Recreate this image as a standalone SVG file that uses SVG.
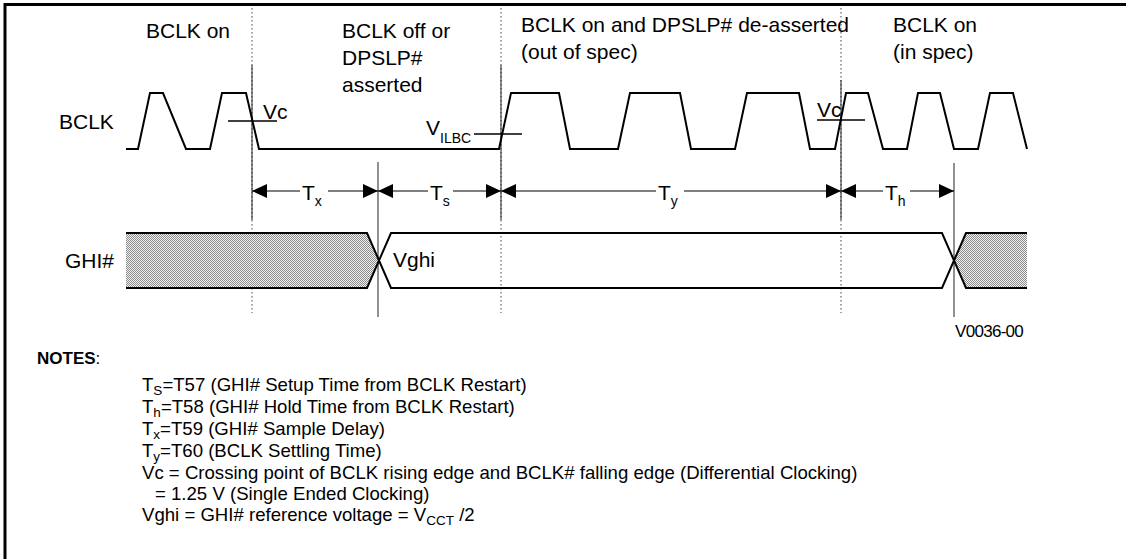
<svg xmlns="http://www.w3.org/2000/svg" width="1126" height="559" viewBox="0 0 1126 559">
<style>
.t{font-family:"Liberation Sans",Arial,sans-serif;fill:#000}
.lab{font-size:21px}
.sub{font-size:14px}
.note{font-size:18.6px}
.nsub{font-size:13.5px}
.wave{fill:none;stroke:#000;stroke-width:2;stroke-linejoin:miter}
.dot{stroke:#444;stroke-width:1;stroke-dasharray:1.5 2.5}
.sol{stroke:#222;stroke-width:1}
.arr{stroke:#000;stroke-width:1.2}
</style>
<defs>
<pattern id="hatch" width="2" height="2" patternUnits="userSpaceOnUse">
<rect width="2" height="2" fill="#f2f2f2"/>
<rect width="1" height="1" fill="#8a8a8a"/>
<rect x="1" y="1" width="1" height="1" fill="#8a8a8a"/>
</pattern>
<marker id="ah" viewBox="0 0 15 14" refX="15" refY="7" markerWidth="15" markerHeight="14" markerUnits="userSpaceOnUse" orient="auto">
<path d="M0,0 L15,7 L0,14 Z" fill="#000"/>
</marker>
</defs>
<rect width="1126" height="559" fill="#fff"/>
<path d="M5,559 V4.5 H1126" fill="none" stroke="#000" stroke-width="3"/>

<g id="region-labels">
<text class="t lab" x="146" y="38">BCLK on</text>
<text class="t lab" x="342" y="38">BCLK off or</text>
<text class="t lab" x="342" y="65">DPSLP#</text>
<text class="t lab" x="342" y="92">asserted</text>
<text class="t lab" x="521" y="32">BCLK on and DPSLP# de-asserted</text>
<text class="t lab" x="521" y="59">(out of spec)</text>
<text class="t lab" x="893" y="32">BCLK on</text>
<text class="t lab" x="893" y="59">(in spec)</text>
</g>

<g id="guides">
<line class="dot" x1="252" y1="8" x2="252" y2="313"/>
<line class="dot" x1="501" y1="8" x2="501" y2="313"/>
<line class="dot" x1="841" y1="8" x2="841" y2="313"/>
<line class="sol" x1="252" y1="65" x2="252" y2="220"/>
<line class="sol" x1="501" y1="65" x2="501" y2="220"/>
<line class="sol" x1="841" y1="80" x2="841" y2="220"/>
<line class="sol" x1="378" y1="162" x2="378" y2="317"/>
<line class="sol" x1="954" y1="163" x2="954" y2="317"/>
</g>

<g id="bclk">
<text class="t lab" x="59" y="129">BCLK</text>
<path class="wave" d="M126,149 H138 L150,93 H163 L186,149 H210 L222,93 H246 L259,149 H499 L511,93 H559 L570,149 H618 L630,93 H680 L691,149 H735 L747,93 H799 L810,149 H835 L846,93 H868 L883,149 H907 L918,93 H940 L954,149 H978 L990,93 H1013 L1027,149"/>
<line x1="228" y1="121" x2="277" y2="121" stroke="#000" stroke-width="1.5"/>
<text class="t lab" x="263" y="119">Vc</text>
<line x1="474" y1="134" x2="522" y2="134" stroke="#000" stroke-width="1.5"/>
<text class="t lab" x="426" y="135">V<tspan class="sub" dy="8">ILBC</tspan></text>
<line x1="817" y1="120" x2="865" y2="120" stroke="#000" stroke-width="1.5"/>
<text class="t lab" x="817" y="117">Vc</text>
</g>

<g id="connectors">
<line class="arr" x1="300" y1="191" x2="252" y2="191" marker-end="url(#ah)"/>
<line class="arr" x1="328" y1="191" x2="378" y2="191" marker-end="url(#ah)"/>
<line class="arr" x1="428" y1="191" x2="378" y2="191" marker-end="url(#ah)"/>
<line class="arr" x1="453" y1="191" x2="501" y2="191" marker-end="url(#ah)"/>
<line class="arr" x1="656" y1="191" x2="501" y2="191" marker-end="url(#ah)"/>
<line class="arr" x1="684" y1="191" x2="841" y2="191" marker-end="url(#ah)"/>
<line class="arr" x1="883" y1="191" x2="841" y2="191" marker-end="url(#ah)"/>
<line class="arr" x1="910" y1="191" x2="954" y2="191" marker-end="url(#ah)"/>
</g>

<g id="timing-labels">
<text class="t lab" x="302" y="200">T<tspan class="sub" dy="6">x</tspan></text>
<text class="t lab" x="430" y="200">T<tspan class="sub" dy="6">s</tspan></text>
<text class="t lab" x="658" y="200">T<tspan class="sub" dy="6">y</tspan></text>
<text class="t lab" x="885" y="200">T<tspan class="sub" dy="6">h</tspan></text>
</g>

<g id="ghi">
<text class="t lab" x="65" y="268">GHI#</text>
<polygon points="126,233 367,233 378.5,260.5 367,288 126,288" fill="url(#hatch)"/>
<polygon points="954,260.5 966,233 1027,233 1027,288 966,288" fill="url(#hatch)"/>
<path class="wave" d="M126,233 H367 L391,288 H942 L966,233 H1027"/>
<path class="wave" d="M126,288 H367 L391,233 H942 L966,288 H1027"/>
<text class="t lab" x="393" y="267">Vghi</text>
</g>

<text class="t" x="955" y="337" style="font-size:17px;letter-spacing:-0.7px">V0036-00</text>

<g id="notes">
<text class="t" x="37" y="364" style="font-size:17px"><tspan font-weight="bold">NOTES</tspan>:</text>
<text class="t note" x="142" y="391">T<tspan class="nsub" dy="4">S</tspan><tspan dy="-4">=T57 (GHI# Setup Time from BCLK Restart)</tspan></text>
<text class="t note" x="142" y="413">T<tspan class="nsub" dy="4">h</tspan><tspan dy="-4">=T58 (GHI# Hold Time from BCLK Restart)</tspan></text>
<text class="t note" x="142" y="435">T<tspan class="nsub" dy="4">x</tspan><tspan dy="-4">=T59 (GHI# Sample Delay)</tspan></text>
<text class="t note" x="142" y="457">T<tspan class="nsub" dy="4">y</tspan><tspan dy="-4">=T60 (BCLK Settling Time)</tspan></text>
<text class="t note" x="142" y="479">Vc = Crossing point of BCLK rising edge and BCLK# falling edge (Differential Clocking)</text>
<text class="t note" x="155" y="500">= 1.25 V (Single Ended Clocking)</text>
<text class="t note" x="142" y="521">Vghi = GHI# reference voltage = V<tspan class="nsub" dy="4">CCT</tspan><tspan dy="-4"> /2</tspan></text>
</g>
</svg>
